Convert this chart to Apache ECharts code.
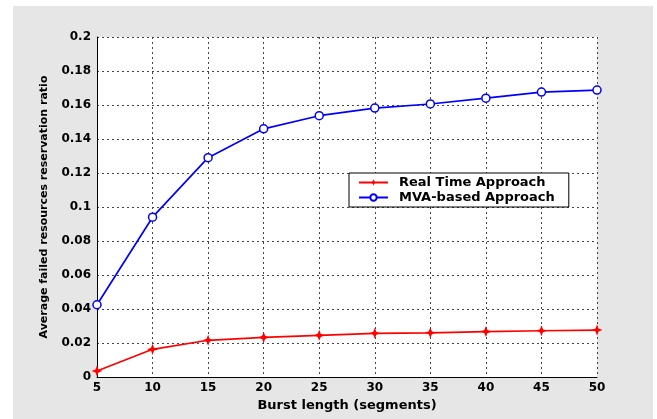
<!DOCTYPE html>
<html><head><meta charset="utf-8">
<script src="https://cdn.jsdelivr.net/npm/echarts@6/dist/echarts.min.js"></script>
<style>html,body{margin:0;padding:0;background:#fff}#c{width:657px;height:419px}</style>
</head><body><div id="c"></div>
<script>
const burstLength = [5, 10, 15, 20, 25, 30, 35, 40, 45, 50];
const realTime = [0.0035, 0.0163, 0.0216, 0.0233, 0.0245, 0.0257, 0.026, 0.0267, 0.0272, 0.0276];
const mvaBased = [0.0425, 0.094, 0.129, 0.146, 0.1537, 0.1582, 0.1606, 0.164, 0.1676, 0.1688];
const seriesNames = ['Real Time Approach', 'MVA-based Approach'];

const pair = (ys) => burstLength.map((x, i) => [x, ys[i]]);
const font = 'DejaVu Sans';
const star = 'path://M0,-5 L1.4,-1.4 L5,0 L1.4,1.4 L0,5 L-1.4,1.4 L-5,0 L-1.4,-1.4 Z';
const chart = echarts.init(document.getElementById('c'), null, {renderer: 'canvas'});
chart.setOption({
  backgroundColor: '#fff',
  animation: false,
  graphic: [{type: 'rect', z: -10, shape: {x: 13, y: 6, width: 640, height: 413}, style: {fill: '#e6e6e6'}}],
  grid: {left: 97, right: 60, top: 37, bottom: 42, show: true, backgroundColor: '#fff', borderWidth: 0, containLabel: false},
  legend: {
    orient: 'vertical', left: 349, top: 173,
    backgroundColor: '#fff', borderColor: '#000', borderWidth: 1, borderRadius: 0,
    padding: [2, 14, 2, 9], itemGap: 0, itemWidth: 29, itemHeight: 8,
    textStyle: {fontFamily: font, fontWeight: 'bold', fontSize: 13, color: '#000', padding: [0, 0, 0, 6], lineHeight: 15},
    data: seriesNames
  },
  xAxis: {
    type: 'value', min: 5, max: 50, interval: 5,
    name: 'Burst length (segments)', nameLocation: 'middle', nameGap: 21,
    nameTextStyle: {fontFamily: font, fontWeight: 'bold', fontSize: 13, color: '#000'},
    axisLine: {show: true, lineStyle: {color: '#000', width: 1}},
    axisTick: {show: false},
    axisLabel: {fontFamily: font, fontWeight: 'bold', fontSize: 12, color: '#000', margin: 5},
    splitLine: {show: true, lineStyle: {color: '#444', type: [2, 3], width: 1}}
  },
  yAxis: {
    type: 'value', min: 0, max: 0.2, interval: 0.02,
    name: 'Average failed resources reservation ratio', nameLocation: 'middle', nameGap: 47,
    nameTextStyle: {fontFamily: font, fontWeight: 'bold', fontSize: 11, color: '#000'},
    axisLine: {show: true, lineStyle: {color: '#000', width: 1}},
    axisTick: {show: false},
    axisLabel: {fontFamily: font, fontWeight: 'bold', fontSize: 12, color: '#000', margin: 6},
    splitLine: {show: true, lineStyle: {color: '#444', type: [2, 3], width: 1}}
  },
  series: [
    {name: seriesNames[0], type: 'line', data: pair(realTime), color: '#ff0000',
     symbol: star, symbolSize: 11, showAllSymbol: true,
     lineStyle: {width: 1.7, color: '#ff0000'}, itemStyle: {color: '#ff0000'}},
    {name: seriesNames[1], type: 'line', data: pair(mvaBased), color: '#0000ff',
     symbol: 'circle', symbolSize: 8, showAllSymbol: true,
     lineStyle: {width: 1.7, color: '#0000ff'},
     itemStyle: {color: '#fff', borderColor: '#0000ff', borderWidth: 1.5}}
  ]
});
</script></body></html>
